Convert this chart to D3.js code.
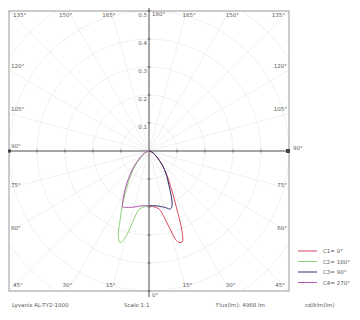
<!DOCTYPE html>
<html>
<head>
<meta charset="utf-8">
<script src="https://cdn.jsdelivr.net/npm/d3@7"></script>
<style>
  body { margin: 0; background: #fff; }
  text { font-family: "DejaVu Sans", sans-serif; }
</style>
</head>
<body>
<div id="chart"></div>
<script>
// polar intensity diagram, C planes 0/180 and 90/270

// gamma angles (deg, 0 = straight down)
var gammas = [0, 5, 10, 12.5, 15, 17.5, 20, 22.5, 25, 30, 35, 40, 45, 50, 60, 70, 80, 90];
var c0Values   = [0.196, 0.2, 0.211, 0.236, 0.286, 0.339, 0.346, 0.307, 0.243, 0.164, 0.118, 0.086, 0.061, 0.043, 0.021, 0.011, 0.004, 0];
var c180Values = [0.196, 0.2, 0.214, 0.25, 0.314, 0.343, 0.321, 0.271, 0.232, 0.168, 0.121, 0.089, 0.064, 0.043, 0.021, 0.011, 0.004, 0];
var c90Values  = [0.196, 0.196, 0.2, 0.204, 0.207, 0.214, 0.221, 0.214, 0.193, 0.143, 0.111, 0.086, 0.061, 0.043, 0.021, 0.011, 0.004, 0];
var c270Values = [0.196, 0.196, 0.2, 0.204, 0.207, 0.211, 0.214, 0.218, 0.221, 0.179, 0.136, 0.1, 0.071, 0.05, 0.025, 0.011, 0.004, 0];

var seriesNames = ["C1= 0°", "C2= 180°", "C3= 90°", "C4= 270°"];
var seriesColors = ["#d9475f", "#8ccf78", "#2e2e6e", "#b05ab0"];
var ringValues = [0.1, 0.2, 0.3, 0.4, 0.5];
var angleTicks = [15, 30, 45, 60, 75, 105, 120, 135, 150, 165];
var footerTexts = ["Lyvanis AL-TY2-1000", "Scale 1:1", "Flux(lm): 4968 lm", "cd/klm(lm)"];

const svgW = 360, svgH = 320;
const cx = 149, cy = 151, half = 140;

var svg = d3.select("#chart").append("svg")
  .attr("width", svgW)
  .attr("height", svgH);

var r = d3.scaleLinear().domain([0, 0.5]).range([0, half]);

svg.append("clipPath").attr("id", "box")
  .append("rect")
  .attr("x", cx - half).attr("y", cy - half)
  .attr("width", half * 2).attr("height", half * 2);

var grid = svg.append("g").attr("clip-path", "url(#box)");

// radial lines every 15 deg
d3.range(0, 360, 15).forEach(function(a) {
  var rad = a * Math.PI / 180;
  grid.append("line")
    .attr("x1", cx).attr("y1", cy)
    .attr("x2", cx + 300 * Math.sin(rad))
    .attr("y2", cy + 300 * Math.cos(rad))
    .attr("stroke", "#e6e6e6").attr("stroke-width", 0.6);
});

// rings (extra ones fill the corners)
ringValues.concat([0.6, 0.7]).forEach(function(v) {
  grid.append("circle")
    .attr("cx", cx).attr("cy", cy).attr("r", r(v))
    .attr("fill", "none").attr("stroke", "#e6e6e6").attr("stroke-width", 0.6);
});

// frame
svg.append("rect")
  .attr("x", cx - half).attr("y", cy - half)
  .attr("width", half * 2).attr("height", half * 2)
  .attr("fill", "none").attr("stroke", "#9a9a9a").attr("stroke-width", 1);

// main axes
svg.append("line")
  .attr("x1", cx - half).attr("x2", cx + half)
  .attr("y1", cy).attr("y2", cy)
  .attr("stroke", "#555").attr("stroke-width", 1);
svg.append("line")
  .attr("x1", cx).attr("x2", cx)
  .attr("y1", cy - half - 3).attr("y2", cy + half + 6)
  .attr("stroke", "#555").attr("stroke-width", 1);

// ticks on the axes
ringValues.forEach(function(v) {
  [-1, 1].forEach(function(s) {
    svg.append("line")
      .attr("x1", cx + s * r(v)).attr("x2", cx + s * r(v))
      .attr("y1", cy - 1.5).attr("y2", cy + 1.5)
      .attr("stroke", "#555").attr("stroke-width", 0.8);
    svg.append("line")
      .attr("x1", cx - 1.5).attr("x2", cx + 1.5)
      .attr("y1", cy + s * r(v)).attr("y2", cy + s * r(v))
      .attr("stroke", "#555").attr("stroke-width", 0.8);
  });
});
svg.append("rect").attr("x", cx + half - 3).attr("y", cy - 2).attr("width", 4).attr("height", 4).attr("fill", "#444");
svg.append("rect").attr("x", cx - half - 1).attr("y", cy - 1.5).attr("width", 3).attr("height", 3).attr("fill", "#444");

var label = function(x, y, t, anchor) {
  svg.append("text")
    .attr("x", x).attr("y", y)
    .attr("text-anchor", anchor || "start")
    .attr("font-size", 5.5)
    .attr("fill", "#5a5a5a")
    .text(t);
};

// ring values along vertical axis
ringValues.forEach(function(v) {
  label(cx - 2, cy - r(v) + 6, v.toFixed(1), "end");
});

// angle labels at the frame edge
angleTicks.forEach(function(g) {
  var rad = g * Math.PI / 180;
  var dx = Math.sin(rad), dy = Math.cos(rad);
  var t = half / Math.max(Math.abs(dx), Math.abs(dy));
  var ex = dx * t, ey = dy * t;
  [-1, 1].forEach(function(s) {
    var x = cx + s * ex, y = cy + ey;
    if (g == 45 || g == 135) {
      var yy = g == 45 ? cy + half - 4 : cy - half + 6;
      if (s < 0) label(cx - half + 4, yy, g + "°", "start");
      else label(cx + half - 4, yy, g + "°", "end");
    } else if (Math.abs(ey) >= half - 0.5) {
      var yy2 = ey > 0 ? cy + half - 4 : cy - half + 6;
      label(x - s * 4, yy2, g + "°", s < 0 ? "end" : "start");
    } else {
      if (s < 0) label(cx - half + 2, y - 2, g + "°", "start");
      else label(cx + half - 2, y - 2, g + "°", "end");
    }
  });
});
label(cx - half + 2, cy - 3, "90°", "start");
label(cx + half + 4, cy - 1, "90°", "start");
label(cx + 3, cy - half + 5, "180°", "start");
label(cx + 3, cy + half + 6, "0°", "start");

// curves: right side angle = PI - gamma, left side angle = PI + gamma
var curve = function(vals, side) {
  var pts = gammas.map(function(g, i) {
    return [Math.PI + side * g * Math.PI / 180, r(vals[i])];
  });
  return d3.lineRadial().curve(d3.curveCatmullRom)(pts);
};

var plot = svg.append("g").attr("transform", "translate(" + cx + "," + cy + ")");
var allSeries = [
  {vals: c0Values, side: -1},
  {vals: c180Values, side: 1},
  {vals: c90Values, side: -1},
  {vals: c270Values, side: 1}
];
allSeries.forEach(function(s, i) {
  plot.append("path")
    .attr("d", curve(s.vals, s.side))
    .attr("fill", "none")
    .attr("stroke", seriesColors[i])
    .attr("stroke-width", 1);
});

// legend
seriesNames.forEach(function(n, i) {
  var y = 251 + i * 10.5;
  svg.append("line")
    .attr("x1", 298).attr("x2", 317)
    .attr("y1", y).attr("y2", y)
    .attr("stroke", seriesColors[i]).attr("stroke-width", 1);
  label(323, y + 2, n, "start");
});

// footer
var footerX = [12, 124, 216, 305];
footerTexts.forEach(function(t, i) {
  label(footerX[i], 307, t, "start");
});
</script>
</body>
</html>
